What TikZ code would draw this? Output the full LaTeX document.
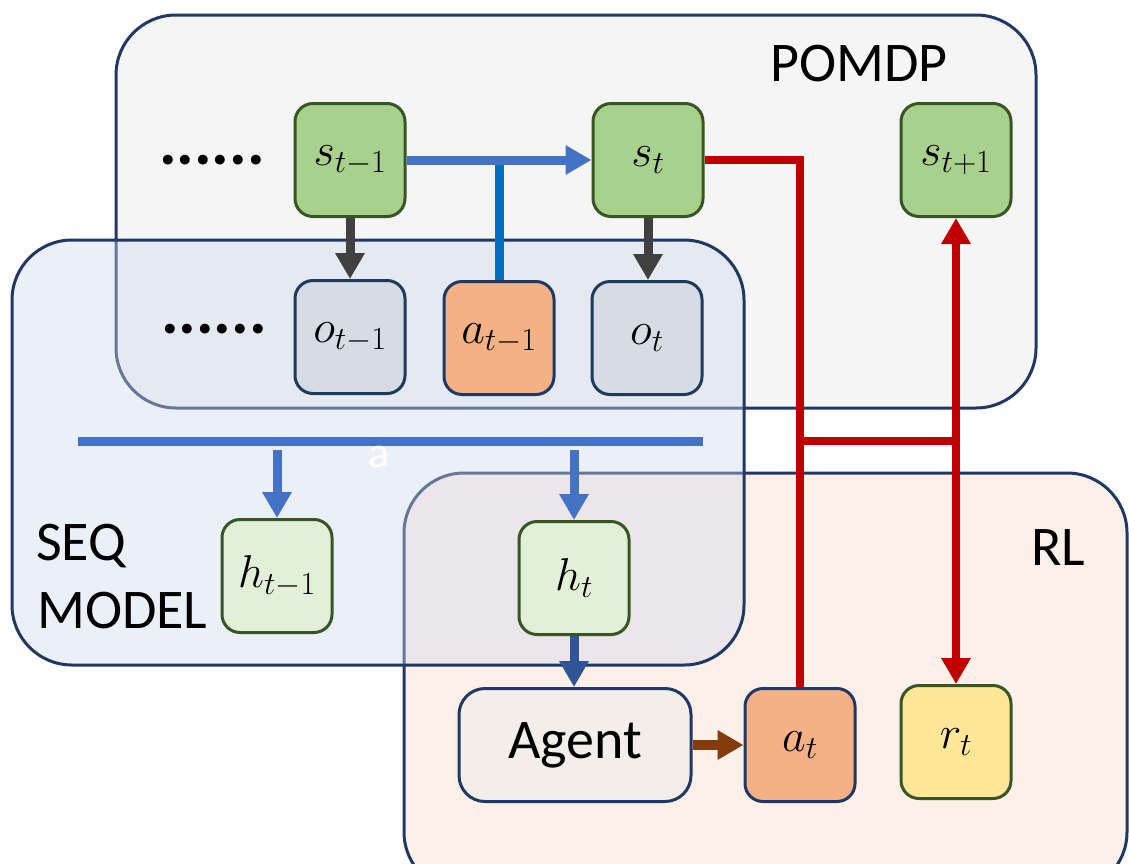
\RequirePackage{fix-cm}
\documentclass[tikz,border=0pt]{standalone}
\usepackage{fontspec}
\setmainfont{Carlito}
\usetikzlibrary{arrows.meta}

\definecolor{navy}{HTML}{1F3864}
\definecolor{cellnavy}{HTML}{203A5C}
\definecolor{dgreen}{HTML}{375623}
\definecolor{pomdpbg}{HTML}{F5F5F5}
\definecolor{seqbg}{HTML}{CFD9EF}
\definecolor{rlbg}{HTML}{FCF0E8}
\definecolor{sfill}{HTML}{A9D18E}
\definecolor{ofill}{HTML}{D6DCE5}
\definecolor{afill}{HTML}{F4B183}
\definecolor{hfill}{HTML}{E2F0D9}
\definecolor{rfill}{HTML}{FFE699}
\definecolor{agentbg}{HTML}{F3EEEA}
\definecolor{flowblue}{HTML}{4472C4}
\definecolor{actblue}{HTML}{0070C0}
\definecolor{deepblue}{HTML}{2F5597}
\definecolor{obsgray}{HTML}{404040}
\definecolor{rewred}{HTML}{C00000}
\definecolor{actbrown}{HTML}{843C0C}

\newcommand{\mathsz}{\fontsize{46}{54}\selectfont}
\newcommand{\labelsz}{\fontsize{56}{67}\selectfont}

\tikzset{
  bigtri/.tip={Triangle[width=28pt,length=26pt]},
  container/.style={draw=navy, line width=3pt, rounded corners=60pt},
  cell/.style={rounded corners=18pt, minimum width=110pt, minimum height=113pt,
    line width=3pt, inner sep=0pt, font=\mathsz},
  svar/.style={cell, fill=sfill, draw=dgreen},
  ovar/.style={cell, fill=ofill, draw=cellnavy},
  avar/.style={cell, fill=afill, draw=navy},
  hvar/.style={cell, fill=hfill, draw=dgreen},
  rvar/.style={cell, fill=rfill, draw=dgreen},
  agentbox/.style={rounded corners=26pt, minimum width=232pt, minimum height=113pt,
    line width=3pt, inner sep=0pt, fill=agentbg, draw=navy, font=\labelsz},
  lbl/.style={font=\labelsz, inner sep=0pt},
  ellipsis/.style={font=\fontsize{66}{70}\selectfont\bfseries, inner sep=0pt},
  flow/.style={line width=9pt, draw=flowblue},
  flowarrow/.style={flow, -bigtri},
  obsarrow/.style={line width=9pt, draw=obsgray, -bigtri},
  envline/.style={line width=8pt, draw=rewred},
}

\begin{document}
\begin{tikzpicture}[x=1pt,y=-1pt]
\useasboundingbox (0,0) rectangle (1129,863);
\clip (0,0) rectangle (1129,863);
\fill[white] (0,0) rectangle (1129,863);

% group frames
\draw[container, fill=pomdpbg] (116,15) rectangle (1036,408);
\draw[container, fill=rlbg] (404,473) rectangle (1127,892);
\fill[seqbg, fill opacity=0.4, rounded corners=60pt] (12,240) rectangle (744,665);
\draw[container] (12,240) rectangle (744,665);

% group titles
\node[lbl] (pomdp) at (859,64) {POMDP};
\node[lbl] (rl) at (1058,548) {RL};
\node[lbl, anchor=base west] (seq) at (36,560) {SEQ};
\node[lbl, anchor=base west] (model) at (37,628) {MODEL};

% earlier steps
\node[ellipsis, anchor=base] (dots1) at (212,164) {......};
\node[ellipsis, anchor=base] (dots2) at (214,333) {......};

% variables
\node[svar] (s1) at (350,160) {$s_{t-1}$};
\node[svar] (st) at (648,160) {$s_t$};
\node[svar] (sn) at (956,160) {$s_{t+1}$};
\node[ovar] (o1) at (350,337) {$o_{t-1}$};
\node[avar] (a1) at (499,338) {$a_{t-1}$};
\node[ovar] (ot) at (647,338) {$o_t$};
\node[hvar] (h1) at (277,576) {$h_{t-1}$};
\node[hvar] (ht) at (574,578) {$h_t$};
\node[agentbox] (agent) at (575,745) {Agent};
\node[avar] (at) at (800,745) {$a_t$};
\node[rvar] (rt) at (956,742) {$r_t$};

% transition s_{t-1} -> s_t driven by a_{t-1}
\draw[line width=9pt, draw=actblue] (a1.north) -- (a1.north |- s1.east);
\draw[flowarrow] (s1.east) -- (st.west);

% observations
\draw[obsarrow] (s1.south) -- (o1.north);
\draw[obsarrow] (st.south) -- (st.south |- ot.north);

% sequence model bus
\coordinate (busL) at (78,441);
\coordinate (busR) at (703,441);
\coordinate (busdrop) at (0,450);
\draw[flow] (busL) -- (busR);
\node[font=\fontsize{44}{52}\selectfont, text=white, inner sep=0pt] (mark) at (379,457) {a};
\draw[flowarrow] (h1.north |- busdrop) -- (h1.north);
\draw[flowarrow] (ht.north |- busdrop) -- (ht.north);

% agent
\draw[line width=9pt, draw=deepblue, -bigtri] (ht.south) -- (ht.south |- agent.north);
\draw[line width=10pt, draw=actbrown, -bigtri] (agent.east) -- (at.west);

% environment step
\coordinate (j1) at (800,441);
\draw[envline] (st.east) -| (at.north);
\draw[envline] (j1) -- (j1 -| sn.south);
\draw[envline, bigtri-bigtri] (sn.south) -- (rt.north);
\end{tikzpicture}
\end{document}
